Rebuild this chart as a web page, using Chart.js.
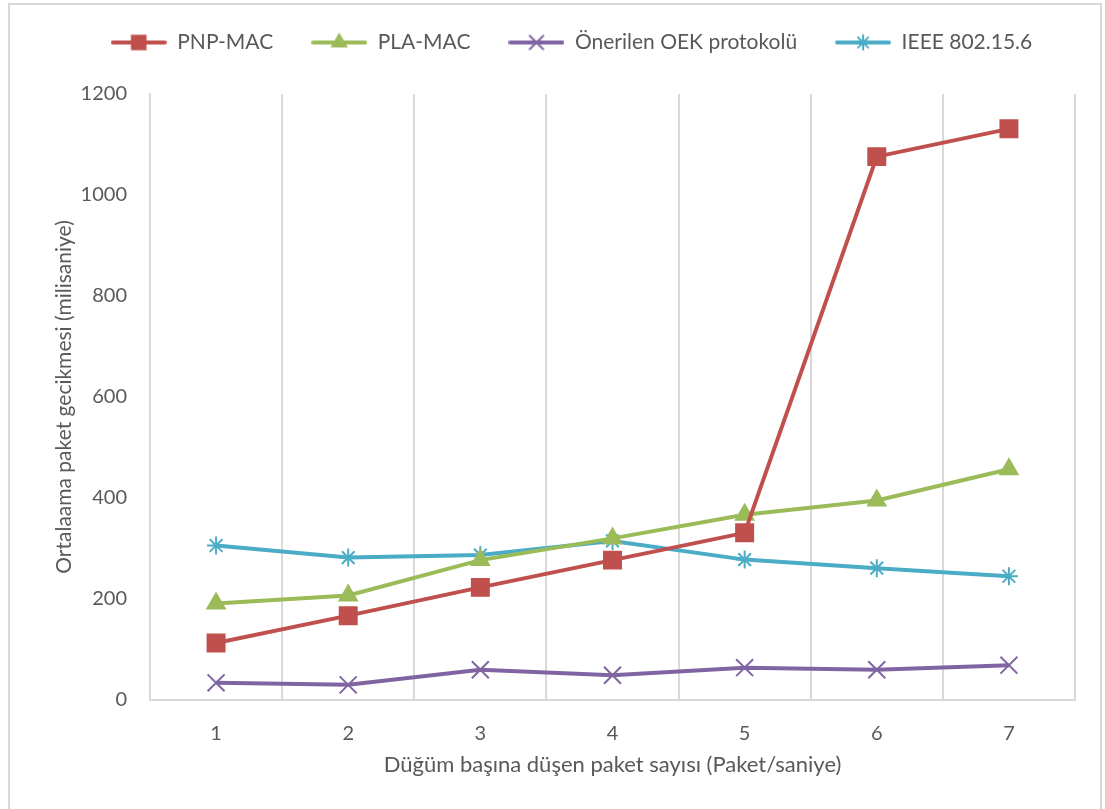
<!DOCTYPE html>
<html>
<head>
<meta charset="utf-8">
<script src="https://cdn.jsdelivr.net/npm/chart.js@4.4.1/dist/chart.umd.min.js"></script>
<style>
  html, body { margin: 0; padding: 0; background: #fff; }
  #wrap { position: relative; width: 1105px; height: 809px; }
  #frame { position: absolute; left: 8px; top: 3px; width: 1094px; height: 820px; border: 2px solid #D9D9D9; box-sizing: border-box; pointer-events: none; }
  canvas { position: absolute; left: 0; top: 0; }
</style>
</head>
<body>
<div id="wrap">
  <canvas id="chart" width="1105" height="809"></canvas>
  <div id="frame"></div>
</div>
<script>
// Veriler
const categories = ["1", "2", "3", "4", "5", "6", "7"];
const pnpMac = [113, 167, 223, 277, 331, 1076, 1131];
const plaMac = [191, 207, 277, 320, 367, 395, 457];
const oekProtokol = [34, 30, 60, 49, 64, 60, 69];
const ieee802156 = [306, 282, 287, 315, 278, 261, 245];

const seriesNames = ["PNP-MAC", "PLA-MAC", "Önerilen OEK protokolü", "IEEE 802.15.6"];
const yTicks = [0, 200, 400, 600, 800, 1000, 1200];

const textColor = "#595959";
const gridColor = "#D9D9D9";
const fontFamily = "Lato, 'Open Sans', sans-serif";

// Lejant için çizgi + işaret resmi
function legendIcon(color, style, radius) {
    const c = document.createElement("canvas");
    c.width = 56;
    c.height = 24;
    const ctx = c.getContext("2d");
    ctx.strokeStyle = color;
    ctx.fillStyle = color;
    ctx.lineWidth = 4;
    ctx.lineCap = "round";
    ctx.beginPath();
    ctx.moveTo(2, 12);
    ctx.lineTo(54, 12);
    ctx.stroke();
    ctx.lineWidth = 2;
    Chart.helpers.drawPoint(ctx, { pointStyle: style, radius: radius, rotation: 0, borderWidth: 2 }, 28, 12);
    return c;
}

function makeDataset(label, data, color, style, radius) {
    return {
        label: label,
        data: data,
        borderColor: color,
        backgroundColor: color,
        borderWidth: 4,
        pointStyle: style,
        pointRadius: radius,
        pointHoverRadius: radius,
        pointBorderWidth: 2,
        pointBackgroundColor: color,
        pointBorderColor: color,
        tension: 0,
        fill: false,
        legendIcon: legendIcon(color, style, radius * 0.8)
    };
}

// Lejant ile grafik alanı arasındaki boşluk ve lejantın yatay kayması
const legendGap = {
    id: "legendGap",
    beforeLayout: function (chart) {
        const lg = chart.legend;
        if (lg && !lg._gapPatched) {
            const fit = lg.fit;
            lg.fit = function () {
                fit.call(this);
                this.height += 31;
            };
            lg._gapPatched = true;
        }
    },
    afterLayout: function (chart) {
        const lg = chart.legend;
        if (lg) {
            lg.left += 34;
            lg.right += 34;
        }
    }
};

const ctx = document.getElementById("chart").getContext("2d");

new Chart(ctx, {
    type: "line",
    data: {
        labels: categories,
        datasets: [
            makeDataset(seriesNames[0], pnpMac, "#C0504D", "rect", 12),
            makeDataset(seriesNames[1], plaMac, "#9BBB59", "triangle", 10),
            makeDataset(seriesNames[2], oekProtokol, "#8064A2", "crossRot", 12),
            makeDataset(seriesNames[3], ieee802156, "#4BACC6", "star", 9)
        ]
    },
    plugins: [legendGap],
    options: {
        responsive: false,
        animation: false,
        devicePixelRatio: 1,
        layout: {
            padding: { left: 0, right: 30, top: -6, bottom: 0 }
        },
        plugins: {
            legend: {
                position: "top",
                labels: {
                    usePointStyle: true,
                    pointStyleWidth: 56,
                    padding: 38,
                    color: textColor,
                    font: { family: fontFamily, size: 21 },
                    generateLabels: function (chart) {
                        return chart.data.datasets.map(function (ds, i) {
                            return {
                                text: ds.label,
                                pointStyle: ds.legendIcon,
                                fillStyle: ds.borderColor,
                                strokeStyle: ds.borderColor,
                                lineWidth: 0,
                                fontColor: textColor,
                                hidden: false,
                                datasetIndex: i
                            };
                        });
                    }
                }
            },
            tooltip: { enabled: false }
        },
        scales: {
            x: {
                offset: true,
                grid: {
                    display: true,
                    offset: true,
                    color: gridColor,
                    lineWidth: 2,
                    drawTicks: false
                },
                border: { display: true, color: gridColor, width: 2 },
                ticks: {
                    color: textColor,
                    padding: 22,
                    font: { family: fontFamily, size: 20 }
                },
                title: {
                    display: true,
                    text: "Düğüm başına düşen paket sayısı (Paket/saniye)",
                    color: textColor,
                    font: { family: fontFamily, size: 22 },
                    padding: { top: 31, bottom: 31 }
                },
                afterFit: function (scale) {
                    scale.height = 109;
                }
            },
            y: {
                min: 0,
                max: 1200,
                grid: { display: false, drawTicks: false },
                border: { display: true, color: gridColor, width: 2 },
                afterBuildTicks: function (scale) {
                    scale.ticks = yTicks.map(function (v) { return { value: v }; });
                },
                ticks: {
                    color: textColor,
                    padding: 23,
                    font: { family: fontFamily, size: 20 },
                    callback: function (value) {
                        return String(value);
                    }
                },
                title: {
                    display: true,
                    text: "Ortalaama paket gecikmesi (milisaniye)",
                    color: textColor,
                    font: { family: fontFamily, size: 21 },
                    padding: { top: 52, bottom: 52 }
                },
                afterFit: function (scale) {
                    scale.width = 150;
                }
            }
        }
    }
});
</script>
</body>
</html>
